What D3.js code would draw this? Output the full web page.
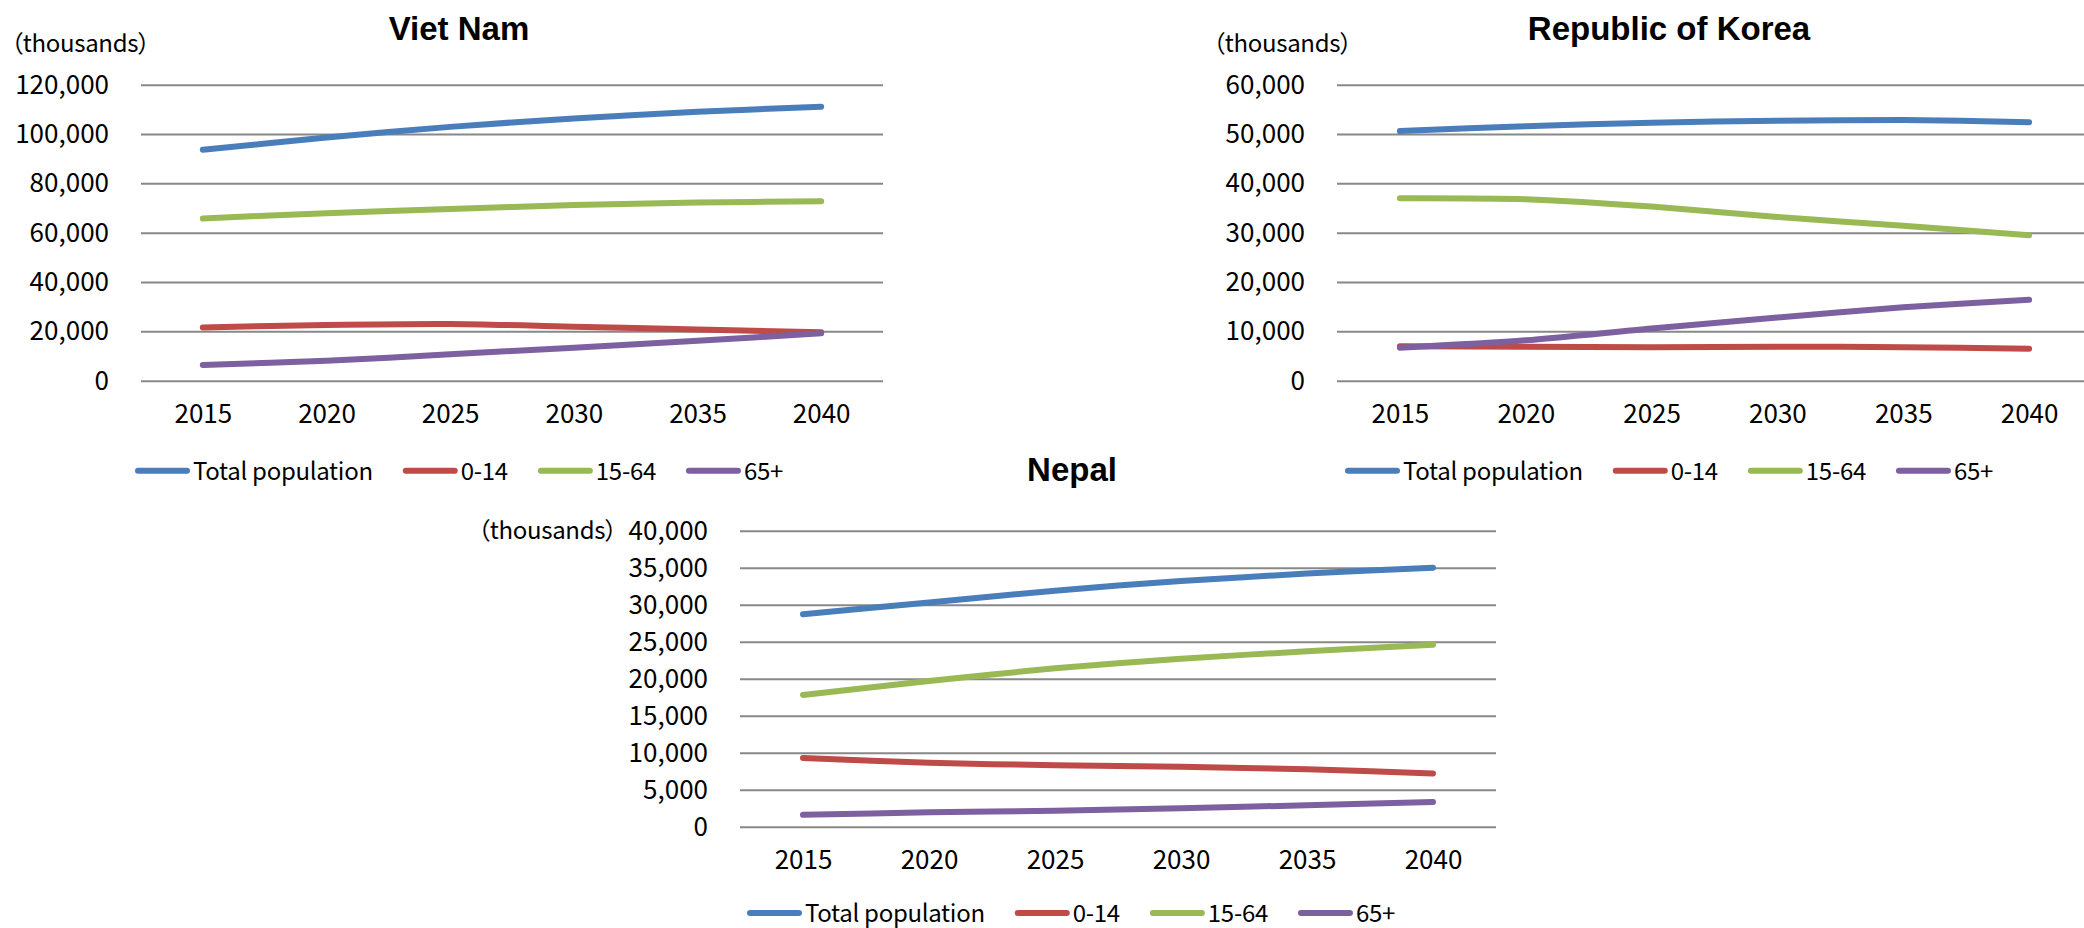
<!DOCTYPE html>
<html>
<head>
<meta charset="utf-8">
<script src="https://cdn.jsdelivr.net/npm/d3@7"></script>
<style>
  html, body { margin: 0; padding: 0; background: #ffffff; }
  svg { display: block; }
  .lbl { font-family: "Noto Sans CJK JP", "Noto Sans", sans-serif; font-size: 26px; fill: #000; font-feature-settings: "palt"; }
  .leg { font-family: "Noto Sans CJK JP", "Noto Sans", sans-serif; font-size: 24px; letter-spacing: -0.3px; fill: #000; font-feature-settings: "palt"; }
  .ttl { font-family: "Liberation Sans", Arial, sans-serif; font-size: 33px; font-weight: bold; fill: #000; }
</style>
</head>
<body>
<svg id="chart" width="2084" height="928"></svg>
<script>
// Projected population by age group (thousands)
const years = [2015, 2020, 2025, 2030, 2035, 2040];
const seriesNames = ["Total population", "0-14", "15-64", "65+"];

const vietTotal = [93600, 98600, 102900, 106300, 109000, 111100];
const viet0to14 = [21600, 22600, 23000, 21900, 20800, 19600];
const viet15to64 = [65800, 67900, 69600, 71200, 72200, 72800];
const viet65plus = [6400, 8100, 10700, 13400, 16200, 19200];
const vietTicks = [0, 20000, 40000, 60000, 80000, 100000, 120000];

const koreaTotal = [50600, 51600, 52300, 52700, 52850, 52400];
const korea0to14 = [7000, 6900, 6800, 6900, 6800, 6500];
const korea15to64 = [37000, 36800, 35300, 33200, 31400, 29500];
const korea65plus = [6700, 8200, 10600, 12800, 14900, 16400];
const koreaTicks = [0, 10000, 20000, 30000, 40000, 50000, 60000];

const nepalTotal = [28700, 30300, 31900, 33200, 34200, 35000];
const nepal0to14 = [9300, 8650, 8300, 8100, 7750, 7200];
const nepal15to64 = [17800, 19700, 21400, 22700, 23700, 24600];
const nepal65plus = [1600, 1950, 2150, 2500, 2900, 3350];
const nepalTicks = [0, 5000, 10000, 15000, 20000, 25000, 30000, 35000, 40000];

const seriesColors = ["#4a7ebb", "#be4b48", "#98b954", "#7d60a0"];

const svg = d3.select("#chart");

function drawPanel(cfg) {
  const g = svg.append("g");
  const x = d3.scalePoint().domain(years).range([cfg.x0, cfg.x1]).padding(0.5);
  const y = d3.scaleLinear().domain([0, d3.max(cfg.ticks)]).range([cfg.yb, cfg.yt]);

  // horizontal gridlines with value labels
  const ya = g.append("g")
    .attr("transform", `translate(${cfg.x0},0)`)
    .call(d3.axisLeft(y).tickValues(cfg.ticks).tickSize(-(cfg.x1 - cfg.x0))
      .tickPadding(32).tickFormat(d3.format(",")));
  ya.select(".domain").remove();
  ya.selectAll(".tick line").attr("stroke", "#888888").attr("stroke-width", 2);
  ya.selectAll(".tick text").attr("class", "lbl").attr("dy", null).attr("y", 8.5);
  ya.attr("font-family", null).attr("font-size", null);

  // category labels
  const xa = g.append("g")
    .attr("transform", `translate(0,${cfg.yb})`)
    .call(d3.axisBottom(x).tickSize(0).tickPadding(0));
  xa.select(".domain").remove();
  xa.selectAll(".tick text").attr("class", "lbl").attr("dy", null).attr("y", 42.5);
  xa.attr("font-family", null).attr("font-size", null);

  // series lines
  const line = d3.line()
    .x((d, i) => x(years[i]))
    .y(d => y(d))
    .curve(d3.curveCardinal.tension(0.2));
  cfg.series.forEach((values, k) => {
    g.append("path")
      .datum(values)
      .attr("d", line)
      .attr("fill", "none")
      .attr("stroke", seriesColors[k])
      .attr("stroke-width", 6)
      .attr("stroke-linecap", "round")
      .attr("stroke-linejoin", "round");
  });

  // title and unit
  g.append("text").attr("class", "ttl").attr("x", cfg.titleX).attr("y", cfg.titleY)
    .attr("text-anchor", "middle").text(cfg.title);
  g.append("text").attr("class", "leg").attr("x", cfg.unitX).attr("y", cfg.unitY)
    .text("（thousands）");

  // legend
  let lx = cfg.legX;
  const leg = g.append("g");
  seriesNames.forEach((name, k) => {
    leg.append("line")
      .attr("x1", lx + 3).attr("x2", lx + 52)
      .attr("y1", cfg.legY).attr("y2", cfg.legY)
      .attr("stroke", seriesColors[k]).attr("stroke-width", 6)
      .attr("stroke-linecap", "round");
    const t = leg.append("text").attr("class", "leg")
      .attr("x", lx + 58).attr("y", cfg.legY + 9).text(name);
    lx += 58 + t.node().getComputedTextLength() + 30;
  });
}

drawPanel({
  title: "Viet Nam", titleX: 459, titleY: 40, unitX: 11, unitY: 52,
  x0: 141, x1: 883, yt: 84.7, yb: 380.7, ticks: vietTicks,
  series: [vietTotal, viet0to14, viet15to64, viet65plus],
  legX: 135, legY: 470.7
});

drawPanel({
  title: "Republic of Korea", titleX: 1669, titleY: 40, unitX: 1213, unitY: 52,
  x0: 1337, x1: 2092, yt: 84.7, yb: 380.7, ticks: koreaTicks,
  series: [koreaTotal, korea0to14, korea15to64, korea65plus],
  legX: 1345, legY: 470.7
});

drawPanel({
  title: "Nepal", titleX: 1072, titleY: 481, unitX: 478, unitY: 539,
  x0: 740, x1: 1496, yt: 530.7, yb: 826.7, ticks: nepalTicks,
  series: [nepalTotal, nepal0to14, nepal15to64, nepal65plus],
  legX: 747, legY: 913
});
</script>
</body>
</html>
